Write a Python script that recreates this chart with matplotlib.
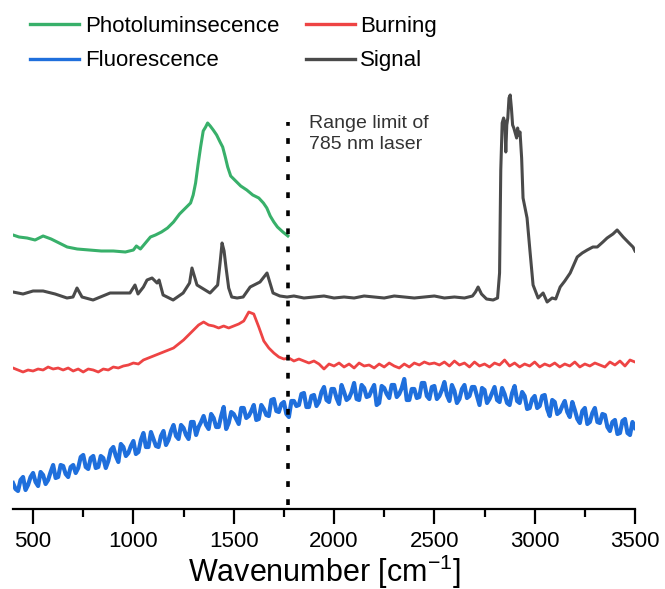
import numpy as np
import matplotlib.pyplot as plt

plt.rcParams['font.family'] = ['Liberation Sans', 'DejaVu Sans']
plt.rcParams['mathtext.fontset'] = 'custom'
plt.rcParams['mathtext.rm'] = 'Liberation Sans'

# spectra, offset intensities (a.u.)
pl_wn = [400, 430, 470, 510, 550, 590, 630, 670, 720, 780, 840, 900, 960, 1000, 1015, 1035,
         1060, 1085, 1110, 1140, 1170, 1200, 1230, 1260, 1285, 1298, 1310, 1322, 1335, 1348,
         1360, 1370, 1383, 1398, 1415, 1432, 1445, 1458, 1470, 1485, 1510, 1535, 1565, 1595,
         1625, 1648, 1665, 1682, 1700, 1718, 1745, 1770]
pl_y = [278, 276, 275, 273, 277, 274, 270, 266, 264, 263, 262, 262, 261, 263, 267, 264,
        270, 276, 278, 281, 285, 291, 299, 305, 310, 318, 330, 348, 366, 382,
        386, 390, 387, 383, 378, 371, 366, 356, 346, 337, 332, 327, 323, 318,
        315, 310, 305, 297, 291, 286, 281, 277]

sig_wn = [400, 450, 500, 550, 610, 669, 699, 719, 744, 799, 884, 983, 1008, 1023, 1050, 1068,
          1093, 1118, 1128, 1148, 1198, 1248, 1280, 1292, 1317, 1382, 1420, 1432, 1442, 1452,
          1462, 1475, 1490, 1517, 1547, 1582, 1631, 1666, 1681, 1696, 1730, 1766, 1800, 1850,
          1900, 1950, 2000, 2050, 2100, 2150, 2200, 2250, 2300, 2350, 2400, 2450, 2500, 2550,
          2600, 2650, 2690, 2705, 2718, 2735, 2760, 2793, 2815, 2825, 2831, 2838, 2845, 2851,
          2856, 2861, 2866, 2872, 2878, 2884, 2890, 2896, 2903, 2910, 2915, 2920, 2927, 2935,
          2942, 2962, 2977, 2992, 3017, 3042, 3062, 3087, 3105, 3127, 3150, 3177, 3212, 3237,
          3262, 3290, 3312, 3340, 3361, 3390, 3411, 3441, 3470, 3490, 3500]
sig_y = [221, 219, 222, 222, 219, 215, 216, 225, 216, 213, 220, 220, 228, 219, 226, 233,
         235, 230, 233, 218, 213, 220, 230, 245, 228, 220, 228, 250, 270, 262,
         245, 225, 216, 215, 216, 226, 231, 240, 230, 220, 217, 216, 217, 215,
         216, 217, 215, 216, 215, 217, 216, 215, 217, 216, 215, 216, 217, 215,
         216, 215, 217, 221, 226, 219, 214, 213, 215, 240, 343, 390, 395, 391,
         361, 388, 395, 415, 418, 405, 388, 385, 380, 375, 385, 378, 381, 355,
         315, 295, 261, 228, 215, 220, 211, 215, 214, 226, 232, 240, 256, 260,
         263, 266, 266, 271, 275, 279, 283, 276, 270, 266, 262]

burn_wn = np.arange(400, 3501, 25)
burn_y = [145, 143, 141, 143, 142, 144, 143, 146, 144, 145, 143, 145, 142, 144, 141, 144,
          143, 141, 144, 143, 146, 145, 147, 148, 150, 149, 153, 155, 157, 159, 161, 163,
          165, 169, 173, 178, 183, 188, 191, 188, 187, 185, 187, 185, 187, 189, 192, 201,
          199, 186, 172, 165, 160, 156, 154, 155, 152, 154, 152, 150, 152, 149, 144, 149,
          147, 150, 146, 149, 145, 150, 147, 148, 145, 149, 146, 150, 147, 145, 149, 146,
          150, 148, 151, 149, 150, 148, 151, 147, 152, 148, 150, 146, 151, 147, 149, 146,
          150, 148, 153, 147, 150, 146, 149, 147, 151, 146, 149, 147, 150, 146, 149, 147,
          151, 146, 149, 147, 150, 148, 146, 151, 148, 152, 147, 153, 151]

fluo_wn = np.arange(400, 3500.1, 12.5)
fluo_y = [30, 24, 22, 33, 36, 23, 28, 36, 40, 31, 27, 41, 38, 29, 33, 41, 48, 35, 36, 48,
          47, 39, 36, 46, 48, 40, 45, 56, 58, 46, 44, 55, 57, 45, 46, 57, 55, 45, 52, 63,
          66, 57, 51, 69, 66, 57, 60, 67, 72, 59, 61, 73, 80, 66, 66, 81, 74, 67, 66, 77,
          82, 68, 73, 82, 88, 77, 74, 88, 85, 78, 74, 91, 91, 78, 86, 91, 97, 88, 84, 99,
          95, 86, 86, 97, 106, 84, 90, 101, 99, 94, 89, 105, 105, 95, 97, 102, 108, 93, 94, 108,
          104, 98, 97, 113, 114, 102, 101, 109, 111, 99, 96, 112, 112, 107, 108, 119, 120, 106, 106, 117,
          118, 107, 111, 121, 126, 113, 111, 124, 124, 115, 109, 128, 121, 113, 115, 121, 130, 114, 113, 128,
          125, 116, 117, 123, 128, 108, 110, 127, 125, 119, 115, 128, 128, 116, 119, 125, 134, 113, 113, 124,
          124, 115, 116, 130, 130, 117, 114, 126, 127, 114, 117, 123, 131, 118, 112, 128, 122, 110, 114, 124,
          128, 115, 117, 126, 126, 117, 108, 125, 123, 110, 114, 120, 126, 113, 111, 125, 119, 110, 108, 120,
          127, 112, 110, 121, 117, 104, 105, 114, 117, 105, 107, 117, 118, 104, 97, 113, 111, 99, 101, 107,
          112, 101, 96, 111, 103, 94, 90, 102, 105, 89, 91, 100, 105, 91, 90, 99, 98, 86, 82, 91,
          93, 79, 80, 92, 94, 80, 78, 91, 85]

laser_limit = 1770

green = '#38b06a'
red = '#ee4444'
blue = '#1f6fdc'
grey = '#4a4a4a'

fig = plt.figure(figsize=(6.65, 5.89), dpi=100)
ax = fig.add_axes([13 / 665, 80 / 589, 622 / 665, 424 / 589])

l_pl, = ax.plot(pl_wn, pl_y, color=green, lw=2.2, label='Photoluminsecence')
l_fl, = ax.plot(fluo_wn, fluo_y, color=blue, lw=3.0, label='Fluorescence')
l_bu, = ax.plot(burn_wn, burn_y, color=red, lw=2.0, label='Burning')
l_si, = ax.plot(sig_wn, sig_y, color=grey, lw=2.2, label='Signal')

ax.vlines(laser_limit, 8, 391, colors='black', lw=2.6, linestyles=(0, (1.6, 3.4)))
ax.text(1875, 379, 'Range limit of\n785 nm laser', fontsize=14, color='#333333',
        va='center', ha='left', linespacing=1.24)

ax.set_xlim(400, 3500)
ax.set_ylim(4, 428)
ax.set_xticks(np.arange(500, 3501, 500))
ax.set_xticks(np.arange(750, 3500, 500), minor=True)
ax.set_yticks([])
for s in ['left', 'right', 'top']:
    ax.spines[s].set_visible(False)
ax.spines['bottom'].set_linewidth(1.6)
ax.tick_params(axis='x', which='major', direction='out', length=11, width=1.6,
               labelsize=16, pad=5)
ax.tick_params(axis='x', which='minor', direction='out', length=6, width=1.6)
ax.set_xlabel('Wavenumber [cm$^{\\mathregular{-1}}$]', fontsize=22, labelpad=0)

leg = fig.legend(handles=[l_pl, l_fl, l_bu, l_si], loc='upper left', bbox_to_anchor=(0.022, 1.0),
                 ncol=2, frameon=False, fontsize=16, handlelength=2.2, handletextpad=0.25,
                 columnspacing=1.2, labelspacing=0.62, borderaxespad=0.3)
for line in leg.get_lines():
    line.set_linewidth(2.4)

fig.savefig('out.png', dpi=100)
